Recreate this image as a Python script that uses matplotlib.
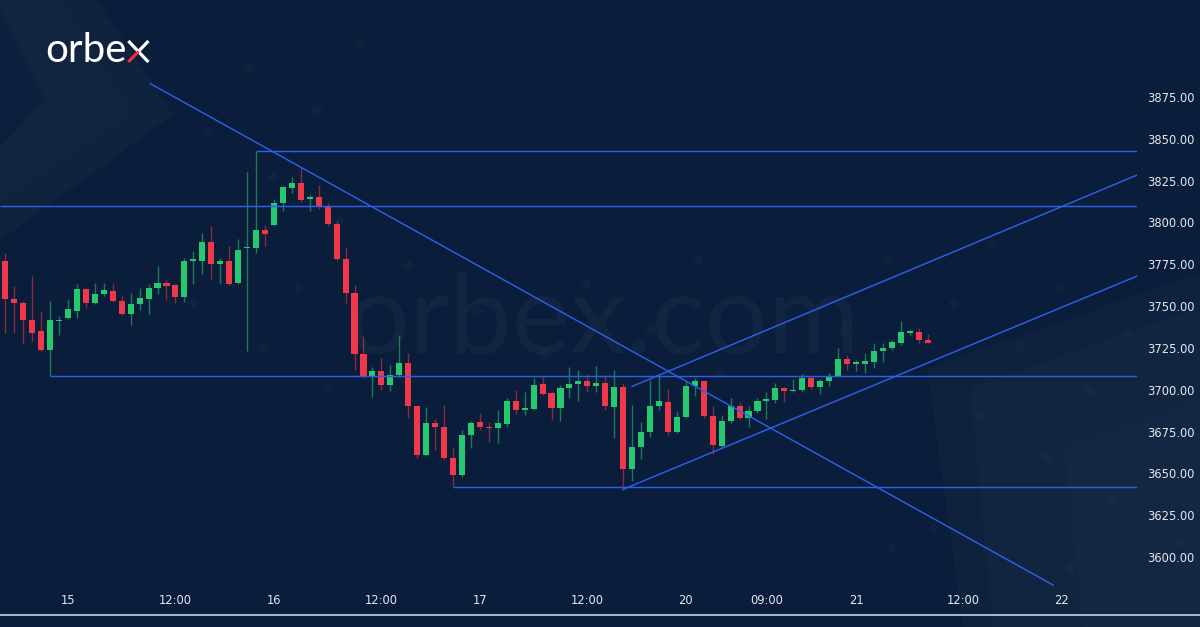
import matplotlib
matplotlib.use("Agg")
import matplotlib.pyplot as plt
from matplotlib.patches import Rectangle, Polygon
from matplotlib.lines import Line2D

# ---------------- data (hourly US500 candles) ----------------
opens = [3777, 3754, 3752, 3742, 3735, 3724, 3741, 3743, 3747, 3760,
         3752, 3757, 3759, 3753, 3745.5, 3751, 3754, 3761, 3764, 3762.5,
         3755.5, 3777, 3777, 3788.5, 3775, 3777, 3764, 3784.5, 3784.5, 3795.5,
         3798.5, 3811.5, 3820.5, 3823.5, 3814, 3815.5, 3809.5, 3799, 3778, 3758,
         3721.5, 3707.5, 3711.5, 3703, 3709, 3716, 3690, 3661, 3680, 3678,
         3659.5, 3649, 3673, 3680.5, 3677.7, 3677, 3679.5, 3693.5, 3688, 3688.5,
         3703.5, 3698, 3689, 3701, 3703.3, 3705, 3702, 3704, 3689.5, 3701.5,
         3652.5, 3665.5, 3674.5, 3690.5, 3692.5, 3675, 3683.5, 3702, 3705, 3684.5,
         3666.5, 3681.5, 3690, 3683, 3687.5, 3693, 3694, 3701, 3699, 3700,
         3707, 3701.5, 3705, 3708, 3718.5, 3715.5, 3715.5, 3716.5, 3723, 3725,
         3728, 3734, 3734.5, 3729.5]
highs = [3782, 3762, 3753, 3768, 3747, 3753, 3744, 3754, 3763, 3761,
         3764, 3764, 3763, 3756, 3758, 3761, 3763, 3774, 3766, 3763,
         3779, 3783, 3794, 3798, 3778.5, 3786, 3790, 3830, 3843, 3798.5,
         3814, 3822, 3827, 3833, 3816.5, 3822.5, 3811.5, 3801, 3785.5, 3762.5,
         3732, 3713.5, 3719, 3715, 3733, 3722, 3691, 3689.5, 3682.5, 3691,
         3665, 3676, 3681.5, 3686, 3681, 3688, 3695, 3700, 3698.5, 3707,
         3708, 3699, 3703, 3713.5, 3712, 3709.5, 3714, 3709, 3712, 3704,
         3691, 3680.5, 3706, 3709, 3700.5, 3687.5, 3706, 3707, 3706, 3690,
         3685, 3695, 3692.5, 3690, 3695, 3698.5, 3704, 3701.5, 3706.5, 3709.5,
         3708, 3706.5, 3710, 3725, 3721, 3718, 3722, 3728, 3728, 3729.5,
         3741, 3735.5, 3737, 3733.5]
lows = [3734, 3734, 3728, 3729, 3723, 3708.5, 3733, 3742.5, 3743, 3749,
        3751, 3756, 3752.5, 3744.5, 3739, 3747.5, 3745.5, 3757.5, 3753.5, 3752,
        3752.5, 3763.5, 3769, 3766.5, 3763.5, 3762.5, 3763.5, 3723, 3781.5, 3786,
        3798, 3807, 3817.5, 3812.5, 3807, 3808, 3798, 3777, 3752, 3712,
        3707, 3695.5, 3700, 3699.5, 3707.5, 3683, 3659, 3660.5, 3664, 3658,
        3642, 3648, 3665, 3676, 3669, 3668, 3678, 3685.5, 3685, 3688,
        3697, 3682, 3681.5, 3695, 3693, 3698.5, 3698.5, 3688, 3671, 3640,
        3645.5, 3658.5, 3672, 3688, 3673, 3674, 3683, 3696.5, 3683, 3661.5,
        3665, 3680, 3682, 3678, 3686, 3682.5, 3692, 3692.5, 3698.5, 3698.5,
        3700.5, 3697.5, 3702.5, 3708, 3712, 3711.5, 3710, 3713, 3716.5, 3724,
        3727, 3732.5, 3728, 3728]
closes = [3754, 3752, 3742, 3734, 3724, 3742, 3742, 3748, 3760, 3752,
          3757, 3759.5, 3753, 3745, 3751, 3755, 3761, 3764, 3762, 3755.5,
          3777, 3777.5, 3788.5, 3775, 3777, 3763.5, 3783.5, 3784.8, 3795.5, 3793,
          3811.5, 3821, 3823.5, 3813.5, 3815, 3809.5, 3799, 3778, 3758, 3721.5,
          3707.5, 3711, 3703, 3709, 3716, 3690, 3661, 3680, 3678, 3659.5,
          3649, 3673, 3680, 3677.5, 3677, 3680, 3693.5, 3688, 3689, 3703,
          3697.5, 3689, 3701, 3703.5, 3705.5, 3702, 3704, 3690, 3701.5, 3652.5,
          3665.5, 3674.5, 3690.5, 3693, 3675, 3683.5, 3702.5, 3705, 3684.5, 3667,
          3681.5, 3690, 3683, 3687.5, 3693, 3694.5, 3701, 3699, 3700, 3707,
          3701.5, 3705, 3708.5, 3718.5, 3715.5, 3716, 3717, 3723, 3725, 3728.5,
          3734.5, 3734.5, 3729.5, 3728]

price_ticks = [3600, 3625, 3650, 3675, 3700, 3725, 3750, 3775, 3800, 3825, 3850, 3875]
time_labels = ["15", "12:00", "16", "12:00", "17", "12:00", "20", "09:00", "21", "12:00", "22"]
time_label_bar = [7, 19, 30, 42, 53, 65, 76, 85, 95, 107, 118]

# drawn analysis: horizontal levels (price, first bar; None = from left edge)
level_prices = [3843, 3810, 3708.5, 3642]
level_start_bar = [28, None, 5, 50]
# trend lines: (bar, price) anchor pairs
desc_trend = [(16.2, 3883.0), (117.0, 3583.3)]
channel_low = [(69.0, 3640.5), (126.4, 3768.0)]
channel_up = [(70.0, 3702.0), (126.4, 3828.4)]

# ---------------- style ----------------
W, H = 1200, 627
BG = "#0a1d3a"
GREEN = "#27c96f"
RED = "#f0384a"
BLUE = "#2d5fe8"
TXT = "#e4e9f1"

fig = plt.figure(figsize=(W / 100, H / 100), dpi=100, facecolor=BG)


def fp(x, y):
    return (x / W, 1 - y / H)


# background decorations (faint shapes)
def poly(pts, alpha, color="white"):
    fig.add_artist(Polygon([fp(*p) for p in pts], closed=True, transform=fig.transFigure,
                           facecolor=color, edgecolor="none", alpha=alpha, zorder=0))


poly([(0, 0), (97, 0), (173, 115), (0, 240)], 0.025)
poly([(0, 10), (45, 100), (0, 147)], 1.0, BG)
poly([(0, 0), (60, 0), (133, 113), (0, 200)], 0.012)
poly([(927, 368), (1200, 273), (1200, 627), (963, 627)], 0.018)
poly([(970, 388), (1200, 307), (1200, 627), (993, 627)], 0.015)
poly([(1065, 448), (1200, 400), (1200, 627), (1083, 627)], 0.012)

diamonds = [(360, 43), (250, 67), (317, 110), (207, 133), (273, 177), (298, 288),
            (193, 303), (262, 347), (328, 388), (340, 220), (992, 245), (887, 260),
            (1059, 288), (954, 303), (1127, 332), (1021, 347), (1090, 390), (979, 415),
            (1046, 458), (1113, 500), (934, 528), (1181, 542), (892, 548),
            (1070, 568), (409, 266), (699, 261), (587, 285), (477, 311), (651, 330),
            (544, 354), (721, 373), (844, 331)]
for (dx, dy) in diamonds:
    r = 6
    poly([(dx, dy - r), (dx + r, dy), (dx, dy + r), (dx - r, dy)], 0.022)

# main axes
ax = fig.add_axes([0, 1 - 588 / H, 1137 / W, 588 / H])
ax.set_facecolor("none")
ax.set_xlim(-0.59, 126.38)
ax.set_ylim(3581.5, 3933.0)

# watermark
ax.text(0.53, 1 - 352 / 588, "orbex.com", transform=ax.transAxes, ha="center", va="baseline",
        fontsize=80, family="Lato", fontweight="normal", color="white", alpha=0.03, zorder=0)

# candles
n = len(opens)
for i in range(n):
    o, h, l, c = opens[i], highs[i], lows[i], closes[i]
    col = GREEN if c >= o else RED
    ax.vlines(i, l, h, colors=col, linewidth=1.0, alpha=0.55, zorder=3)
    lo = min(o, c)
    hgt = max(abs(c - o), 0.9)
    ax.add_patch(Rectangle((i - 0.34, lo), 0.68, hgt, facecolor=col, edgecolor="none", zorder=4))

# horizontal levels
xmin, xmax = ax.get_xlim()
for p, sb in zip(level_prices, level_start_bar):
    x0 = xmin if sb is None else sb
    ax.plot([x0, xmax], [p, p], color=BLUE, lw=1.05, zorder=5, solid_capstyle="butt")

for line in (desc_trend, channel_low, channel_up):
    (x0, y0), (x1, y1) = line
    ax.plot([x0, x1], [y0, y1], color=BLUE, lw=1.05, zorder=5)

# axes / ticks
for s in ax.spines.values():
    s.set_visible(False)
ax.yaxis.tick_right()
ax.set_yticks(price_ticks)
ax.set_yticklabels([f"{v:.2f}" for v in price_ticks])
ax.set_xticks(time_label_bar)
ax.set_xticklabels(time_labels)
ax.tick_params(axis="y", length=0, pad=7.5, labelsize=8.3, labelcolor=TXT)
ax.tick_params(axis="x", length=0, pad=4, labelsize=8.3, labelcolor=TXT)
ax.grid(False)

# bottom white rule
fig.add_artist(Line2D([0, 1], [1 - 615 / H, 1 - 615 / H], transform=fig.transFigure,
                      color="#c9d1de", lw=1.2))

# logo
t = fig.text(45 / W, 1 - 62 / H, "orbe", ha="left", va="baseline", fontsize=29,
             family="Lato", fontweight="normal", color="white")
fig.canvas.draw()
bb = t.get_window_extent(fig.canvas.get_renderer())
x0 = bb.x1 + 2
xh = 21
yb = H - 62  # baseline in display px (origin bottom)
xw = 20
lw_logo = 2.3
to_fig = lambda px, py: (px / W, py / H)
fig.add_artist(Line2D(*zip(to_fig(x0, yb + xh), to_fig(x0 + xw, yb)), transform=fig.transFigure,
                      color="white", lw=lw_logo, solid_capstyle="butt"))
fig.add_artist(Line2D(*zip(to_fig(x0 + xw / 2, yb + xh / 2), to_fig(x0 + xw, yb + xh)),
                      transform=fig.transFigure, color="white", lw=lw_logo, solid_capstyle="butt"))
fig.add_artist(Line2D(*zip(to_fig(x0, yb), to_fig(x0 + xw / 2, yb + xh / 2)),
                      transform=fig.transFigure, color="#e8323f", lw=lw_logo, solid_capstyle="butt"))

fig.savefig("out.png", dpi=100, facecolor=BG)
